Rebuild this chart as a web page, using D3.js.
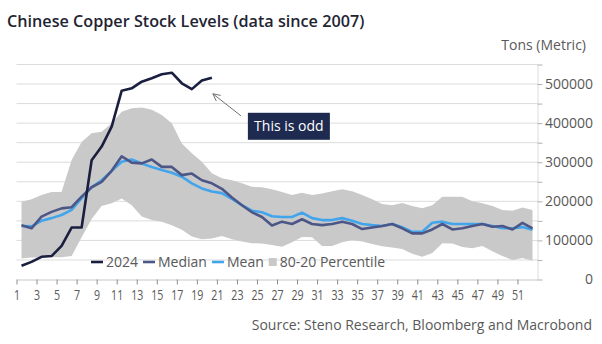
<!doctype html>
<html>
<head>
<meta charset="utf-8"/>
<title>Chinese Copper Stock Levels</title>
<script src="https://d3js.org/d3.v7.min.js"></script>
<style>
body { margin: 0; background: #fff; }
text { font-family: "Open Sans", sans-serif; }
</style>
</head>
<body>
<svg id="chart"></svg>
<script>
// week numbers 1..52
const weeks = d3.range(1, 53)
const xTickLabels = d3.range(1, 53, 2)
const yTicks = d3.range(0, 550001, 50000)

// values, metric tons
const y2024 = [35000, 45000, 58000, 60000, 86000, 133000, 133000, 305000, 340000, 391000,
    483000, 489000, 506000, 515000, 525000, 529000, 502000, 487000, 509000, 516000]

const median = [139000, 131000, 161000, 173000, 182000, 185000, 212000, 236000, 250000, 278000,
    315000, 299000, 297000, 307000, 288000, 288000, 267000, 271000, 254000, 246000,
    232000, 210000, 190000, 172000, 160000, 138000, 148000, 142000, 154000, 142000,
    139000, 142000, 148000, 142000, 129000, 133000, 137000, 142000, 131000, 118000,
    118000, 128000, 142000, 128000, 131000, 137000, 142000, 135000, 137000, 128000,
    145000, 131000]

const mean = [137000, 136000, 150000, 157000, 165000, 178000, 208000, 236000, 254000, 278000,
    301000, 307000, 297000, 288000, 280000, 273000, 263000, 246000, 233000, 225000,
    221000, 206000, 190000, 176000, 172000, 162000, 160000, 160000, 171000, 157000,
    152000, 152000, 157000, 150000, 142000, 139000, 137000, 142000, 134000, 122000,
    122000, 145000, 148000, 142000, 142000, 142000, 142000, 137000, 131000, 131000,
    134000, 127000]

const p80 = [199000, 205000, 216000, 224000, 224000, 306000, 352000, 374000, 378000, 400000,
    429000, 438000, 440000, 434000, 421000, 400000, 348000, 323000, 301000, 272000,
    259000, 254000, 246000, 237000, 236000, 231000, 224000, 216000, 222000, 216000,
    220000, 226000, 231000, 226000, 216000, 205000, 193000, 190000, 196000, 188000,
    182000, 190000, 212000, 212000, 212000, 200000, 195000, 188000, 178000, 176000,
    184000, 178000]

const p20 = [54000, 56000, 56000, 57000, 57000, 60000, 108000, 155000, 188000, 195000,
    207000, 190000, 161000, 152000, 148000, 139000, 127000, 110000, 103000, 105000,
    111000, 103000, 97000, 93000, 92000, 88000, 84000, 95000, 109000, 108000,
    86000, 86000, 95000, 101000, 97000, 91000, 85000, 82000, 78000, 66000,
    58000, 68000, 93000, 92000, 83000, 80000, 86000, 72000, 60000, 50000,
    55000, 48000]

const legendItems = ['2024', 'Median', 'Mean', '80-20 Percentile']

const width = 602
const height = 344
const grey = '#595959'
const colors = {'2024': '#1b1f3f', 'Median': '#4d5787', 'Mean': '#42a5ec', 'band': '#c9c9c9'}

const svg = d3.select('#chart')
    .attr('width', width)
    .attr('height', height)

// weeks sit in the middle of each tick interval
const x = d3.scaleLinear().domain([1, 53]).range([16.5, 537.5])
const y = d3.scaleLinear().domain([0, 550000]).range([279.5, 64.5])
const xc = w => x(w + 0.5)

// grid
svg.append('g')
    .selectAll('line')
    .data(yTicks.filter(d => d > 0))
    .join('line')
    .attr('x1', x(1)).attr('x2', x(53))
    .attr('y1', d => y(d)).attr('y2', d => y(d))
    .style('stroke', '#dcdcdc')
    .style('stroke-width', 1)

// 80-20 band
const band = weeks.map((w, i) => ({w: w, hi: p80[i], lo: p20[i]}))
svg.append('path')
    .datum(band)
    .attr('d', d3.area().x(d => xc(d.w)).y0(d => y(d.lo)).y1(d => y(d.hi)))
    .style('fill', colors.band)

function series(vals, color) {
    svg.append('path')
        .datum(vals)
        .attr('d', d3.line().x((d, i) => xc(weeks[i])).y(d => y(d)))
        .style('fill', 'none')
        .style('stroke', color)
        .style('stroke-width', 2.6)
        .style('stroke-linejoin', 'round')
}
series(mean, colors.Mean)
series(median, colors.Median)
series(y2024, colors['2024'])

// x axis
const xAxis = svg.append('g')
    .attr('transform', `translate(0,${y(0)})`)
    .call(d3.axisBottom(x).tickValues(xTickLabels).tickSize(5).tickSizeOuter(0).tickPadding(6))
xAxis.select('.domain').style('stroke', '#c8c8c8')
xAxis.selectAll('.tick line').style('stroke', '#8c8c8c')
xAxis.selectAll('.tick text')
    .style('font-size', '14px')
    .style('fill', grey)
    .attr('transform', 'scale(0.76,1)')

// y axis on the right
const yAxis = svg.append('g')
    .attr('transform', `translate(${x(53)},0)`)
    .call(d3.axisRight(y).tickValues(yTicks).tickSize(5).tickSizeOuter(0)
        .tickFormat(d => d % 100000 === 0 ? d : ''))
yAxis.select('.domain').style('stroke', '#dcdcdc')
yAxis.selectAll('.tick line').style('stroke', '#b0b0b0')
yAxis.selectAll('.tick text')
    .attr('x', 593 - x(53))
    .style('text-anchor', 'end')
    .style('font-size', '14px')
    .style('fill', grey)

// titles
svg.append('text')
    .attr('x', 7).attr('y', 27)
    .style('font-size', '16.2px')
    .style('font-weight', 600)
    .style('fill', '#1f2433')
    .text('Chinese Copper Stock Levels (data since 2007)')

svg.append('text')
    .attr('x', 586).attr('y', 50)
    .style('text-anchor', 'end')
    .style('font-size', '14px')
    .style('fill', grey)
    .text('Tons (Metric)')

svg.append('text')
    .attr('x', 592).attr('y', 330)
    .style('text-anchor', 'end')
    .style('font-size', '14px')
    .style('fill', grey)
    .text('Source: Steno Research, Bloomberg and Macrobond')

// legend
const legend = svg.append('g').attr('transform', 'translate(91,262)')
let lx = 0
legendItems.forEach(name => {
    if (name === '80-20 Percentile') {
        legend.append('rect')
            .attr('x', lx).attr('y', -4).attr('width', 8).attr('height', 8)
            .style('fill', colors.band)
        lx += 11
    } else {
        legend.append('line')
            .attr('x1', lx).attr('x2', lx + 12)
            .attr('y1', 0).attr('y2', 0)
            .style('stroke', colors[name])
            .style('stroke-width', 2.6)
        lx += 15
    }
    const t = legend.append('text')
        .attr('x', lx).attr('y', 5)
        .style('font-size', '14px')
        .style('fill', grey)
        .text(name)
    lx += t.node().getComputedTextLength() + 5
})

// annotation pointing at the end of the 2024 line
const tipX = xc(20) + 1
const tipY = y(y2024[19]) + 16
svg.append('defs').append('marker')
    .attr('id', 'arrow')
    .attr('viewBox', '0 0 10 10')
    .attr('refX', 9).attr('refY', 5)
    .attr('markerWidth', 9).attr('markerHeight', 9)
    .attr('orient', 'auto-start-reverse')
    .append('path')
    .attr('d', 'M1,1 L9,5 L1,9')
    .style('fill', 'none')
    .style('stroke', '#707070')
    .style('stroke-width', 1)

svg.append('line')
    .attr('x1', tipX + 28).attr('y1', tipY + 22)
    .attr('x2', tipX).attr('y2', tipY)
    .style('stroke', '#707070')
    .style('stroke-width', 1)
    .attr('marker-end', 'url(#arrow)')

const boxX = tipX + 35
const boxY = tipY + 19
svg.append('rect')
    .attr('x', boxX).attr('y', boxY)
    .attr('width', 82).attr('height', 27)
    .style('fill', '#1e2a4f')
svg.append('text')
    .attr('x', boxX + 41).attr('y', boxY + 18.5)
    .style('text-anchor', 'middle')
    .style('font-size', '14px')
    .style('fill', '#ffffff')
    .text('This is odd')
</script>
</body>
</html>
